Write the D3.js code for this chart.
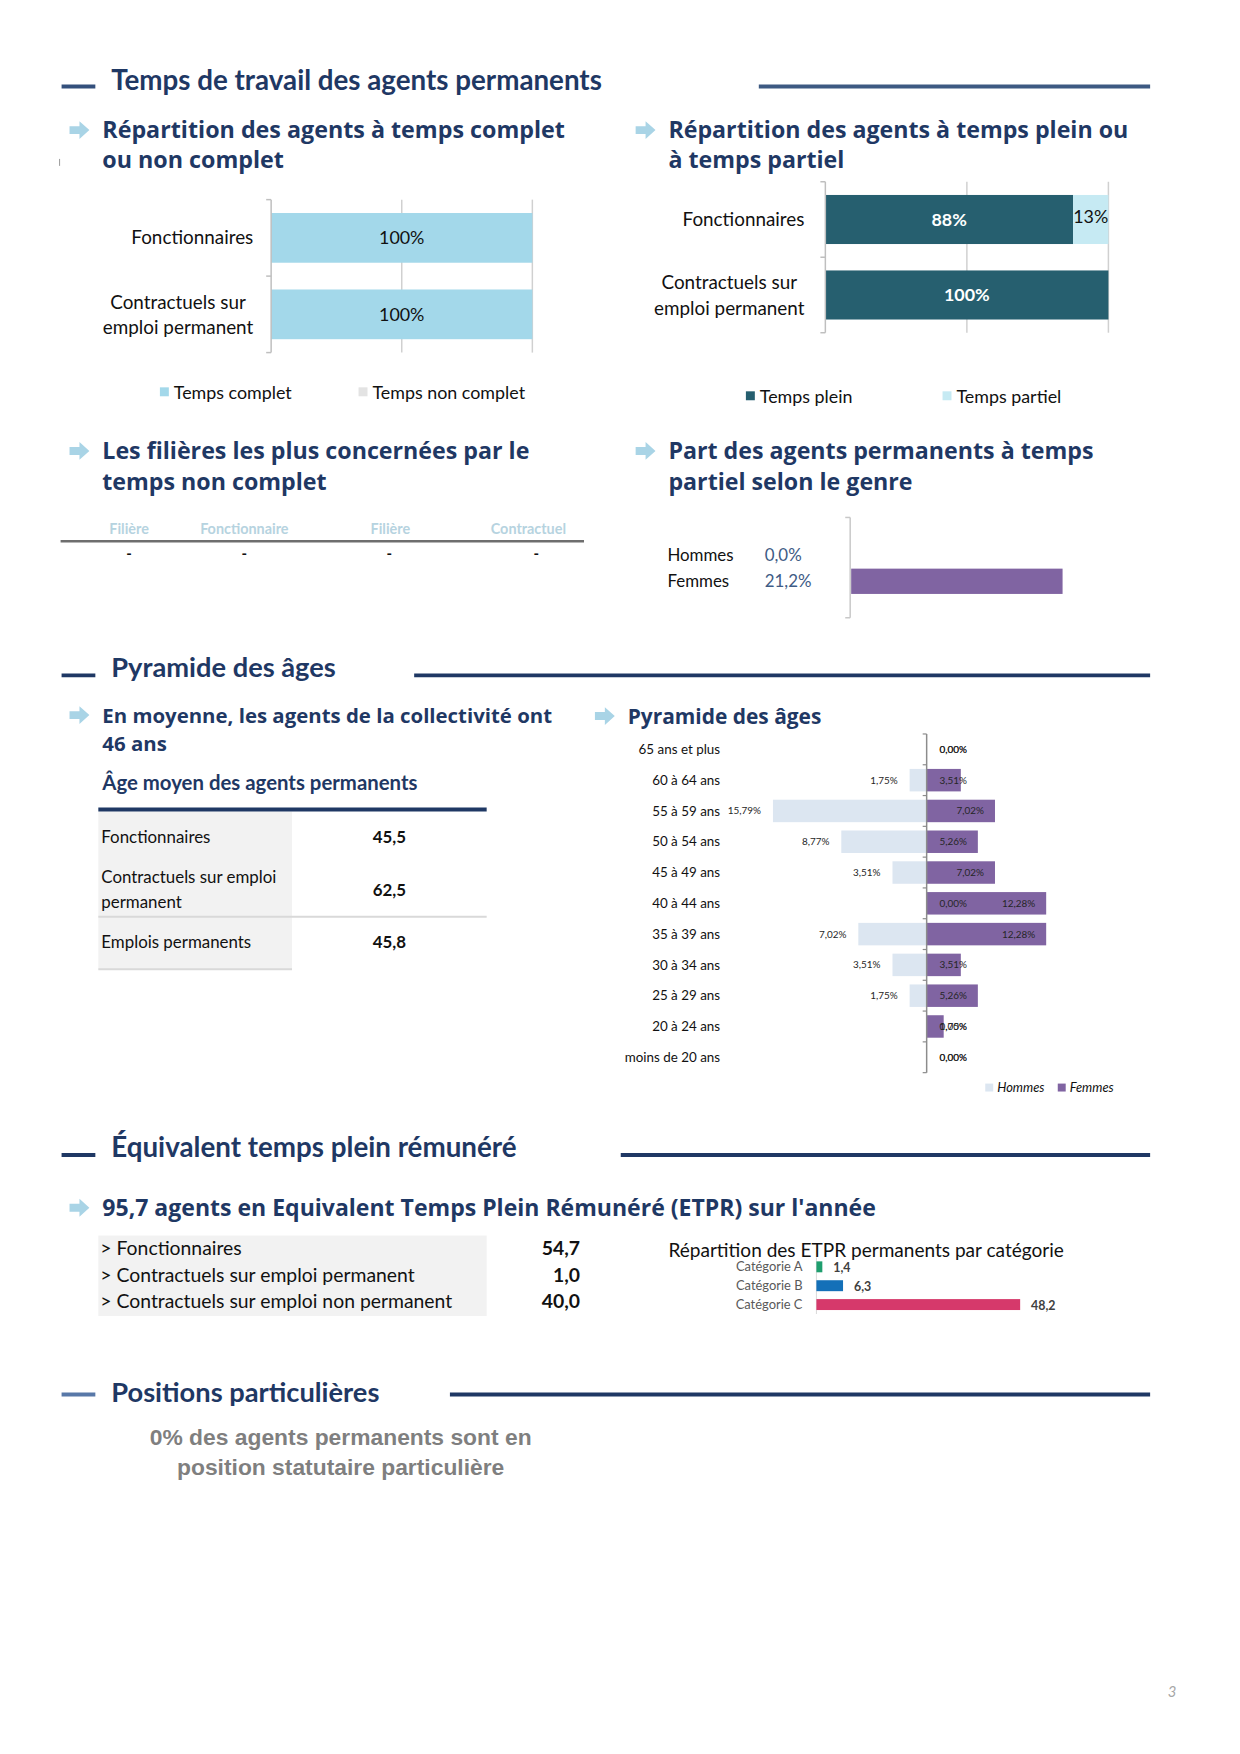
<!DOCTYPE html>
<html>
<head>
<meta charset="utf-8">
<script src="https://cdn.jsdelivr.net/npm/d3@7"></script>
<style>
  body { margin: 0; background: #fff; }
  svg { display: block; }
</style>
</head>
<body>
<svg id="page" width="1240" height="1754"></svg>
<script>
// ---- data ----
var tempsCats = ["Fonctionnaires", "Contractuels sur emploi permanent"];
var tempsComplet = [100, 100];
var tempsNonComplet = [0, 0];

var pleinCats = ["Fonctionnaires", "Contractuels sur emploi permanent"];
var tempsPlein = [87.5, 100];
var tempsPartiel = [12.5, 0];

var filiereHeaders = ["Filière", "Fonctionnaire", "Filière", "Contractuel"];
var filiereRow = ["-", "-", "-", "-"];

var genreCats = ["Hommes", "Femmes"];
var partielGenre = [0.0, 21.2];

var ageCats = ["Fonctionnaires", "Contractuels sur emploi permanent", "Emplois permanents"];
var ageMoyen = [45.5, 62.5, 45.8];

var pyramidAges = ["65 ans et plus", "60 à 64 ans", "55 à 59 ans", "50 à 54 ans", "45 à 49 ans",
    "40 à 44 ans", "35 à 39 ans", "30 à 34 ans", "25 à 29 ans", "20 à 24 ans", "moins de 20 ans"];
var pyrHommes = [0, 1.75, 15.79, 8.77, 3.51, 0, 7.02, 3.51, 1.75, 0, 0];
var pyrFemmes = [0, 3.51, 7.02, 5.26, 7.02, 12.28, 12.28, 3.51, 5.26, 1.75, 0];

var etprCats = ["> Fonctionnaires", "> Contractuels sur emploi permanent", "> Contractuels sur emploi non permanent"];
var etprValues = [54.7, 1.0, 40.0];
var etprTotal = 95.7;

var etprCatLabels = ["Catégorie A", "Catégorie B", "Catégorie C"];
var etprCatValues = [1.4, 6.3, 48.2];
var etprCatColors = ["#1f9e6e", "#1470b8", "#d6396b"];

var positionsPct = 0;

// ---- setup ----
var svg = d3.select("#page").append("g").attr("transform", "scale(0.9932)");
var navy = "#1f3864";
var bodyFont = "Lato, 'Open Sans', sans-serif";
var gothic = "'Open Sans', 'DejaVu Sans', sans-serif";
var fr = d3.formatLocale({decimal: ",", thousands: " ", grouping: [3], currency: ["", " €"]});
var f1 = fr.format(".1f"), f2 = fr.format(".2f");

function fitText(sel, w) {
    var len = sel.node().getComputedTextLength();
    var fs = parseFloat(sel.attr("font-size"));
    sel.attr("font-size", (fs * w / len).toFixed(2));
    return fs * w / len;
}

function wrapLabel(s) {
    if (s.length <= 20) return [s];
    var words = s.split(" "), first = "";
    while (words.length && (first + " " + words[0]).trim().length <= 16) {
        first = (first + " " + words.shift()).trim();
    }
    return [first, words.join(" ")];
}

function sectionHeader(y, title, w, lineX, barColor, lineColor, dyTitle) {
    svg.append("line").attr("x1", 62).attr("x2", 96).attr("y1", y).attr("y2", y)
        .attr("stroke", barColor).attr("stroke-width", 4);
    var t = svg.append("text").attr("x", 112).attr("y", y + 2 + (dyTitle || 0))
        .attr("font-family", bodyFont).attr("font-weight", 700).attr("font-size", 26)
        .attr("fill", navy).text(title);
    fitText(t, w);
    svg.append("line").attr("x1", lineX).attr("x2", 1158).attr("y1", y).attr("y2", y)
        .attr("stroke", lineColor).attr("stroke-width", 4);
}

function arrow(x, y) {
    svg.append("path")
        .attr("transform", "translate(" + x + "," + y + ")")
        .attr("d", "M0,-4H10V-9L20,0L10,9V4H0Z")
        .attr("fill", "#a9d4e6");
}

function subtitle(x, y, lines, w, lh) {
    arrow(x - 33, y - 8);
    var t0 = svg.append("text").attr("x", x).attr("y", y)
        .attr("font-family", gothic).attr("font-weight", 700).attr("font-size", 22)
        .attr("fill", navy).text(lines[0]);
    var fs = fitText(t0, w);
    for (var i = 1; i < lines.length; i++) {
        svg.append("text").attr("x", x).attr("y", y + lh * i)
            .attr("font-family", gothic).attr("font-weight", 700).attr("font-size", fs.toFixed(2))
            .attr("fill", navy).text(lines[i]);
    }
}

// stacked horizontal bar chart (Excel style)
function stackChart(o) {
    var x = d3.scaleLinear().domain([0, 100]).range([o.x0, o.x1]);
    var y = d3.scaleBand().domain(o.cats).range([o.y0, o.y1]).paddingInner(0.35).paddingOuter(0.175);
    var g = svg.append("g");
    g.selectAll("line.grid").data([50, 100]).enter().append("line")
        .attr("x1", function (d) { return x(d); }).attr("x2", function (d) { return x(d); })
        .attr("y1", o.y0).attr("y2", o.y1).attr("stroke", "#d0d0d0").attr("stroke-width", 1.5);
    o.series.forEach(function (s, si) {
        g.selectAll("rect.s" + si).data(o.cats).enter().append("rect")
            .attr("x", function (d, i) { return x(si === 0 ? 0 : o.series[0].values[i]); })
            .attr("y", function (d) { return y(d); })
            .attr("width", function (d, i) { return x(s.values[i]) - x(0); })
            .attr("height", y.bandwidth())
            .attr("fill", s.color);
        g.selectAll("text.s" + si).data(o.cats).enter().append("text")
            .filter(function (d, i) { return s.values[i] > 0; })
            .attr("x", function (d, i) {
                var start = si === 0 ? 0 : o.series[0].values[i];
                return x(start + s.values[i] / 2);
            })
            .attr("y", function (d) { return y(d) + y.bandwidth() / 2; })
            .attr("dy", s.dy || "0.35em")
            .attr("text-anchor", "middle")
            .attr("font-family", bodyFont).attr("font-size", 18)
            .attr("font-weight", s.bold ? 700 : 400)
            .attr("fill", s.labelColor)
            .text(function (d, i) { return Math.round(s.values[i]) + "%"; });
    });
    // axis
    g.append("line").attr("x1", x(0)).attr("x2", x(0)).attr("y1", o.y0).attr("y2", o.y1)
        .attr("stroke", "#bfbfbf").attr("stroke-width", 1.5);
    var bounds = [o.y0, (o.y0 + o.y1) / 2, o.y1];
    g.selectAll("line.tick").data(bounds).enter().append("line")
        .attr("x1", x(0) - 5).attr("x2", x(0)).attr("y1", function (d) { return d; }).attr("y2", function (d) { return d; })
        .attr("stroke", "#bfbfbf").attr("stroke-width", 1.5);
    // category labels, wrapped lines centred on each other
    o.cats.forEach(function (c) {
        var lines = wrapLabel(c);
        var lab = g.append("text").attr("font-family", bodyFont).attr("font-size", 19).attr("fill", "#111");
        var cy = y(c) + y.bandwidth() / 2 - (lines.length - 1) * 12.5;
        var maxW = 0;
        lines.forEach(function (l, li) {
            var ts = lab.append("tspan").attr("x", 0).attr("y", cy + li * 26).attr("dy", "0.35em").text(l);
            maxW = Math.max(maxW, ts.node().getComputedTextLength());
        });
        lab.selectAll("tspan").attr("x", o.labelRight - maxW / 2).attr("text-anchor", "middle");
    });
    // legend
    o.series.forEach(function (s, si) {
        var lx = o.legendX[si];
        g.append("rect").attr("x", lx).attr("y", o.legendY - 5).attr("width", 9).attr("height", 9).attr("fill", s.legendColor || s.color);
        g.append("text").attr("x", lx + 14).attr("y", o.legendY).attr("dy", "0.35em")
            .attr("font-family", bodyFont).attr("font-size", 18).attr("fill", "#111").text(s.name);
    });
}

// ---- Section 1 : Temps de travail ----
sectionHeader(87, "Temps de travail des agents permanents", 494, 764, "#34507c", "#3d5a82", 2);

subtitle(103, 139, ["Répartition des agents à temps complet", "ou non complet"], 466, 30);
svg.append("line").attr("x1", 60).attr("x2", 60).attr("y1", 160).attr("y2", 167).attr("stroke", "#999").attr("stroke-width", 1);
subtitle(673, 139, ["Répartition des agents à temps plein ou", "à temps partiel"], 463, 30);

stackChart({
    cats: tempsCats, x0: 273, x1: 536, y0: 201, y1: 355, labelRight: 255,
    series: [
        {name: "Temps complet", values: tempsComplet, color: "#a3d8ea", labelColor: "#111", bold: false},
        {name: "Temps non complet", values: tempsNonComplet, color: "#e3e3e3", labelColor: "#111", bold: false}
    ],
    legendX: [161, 361], legendY: 395
});

stackChart({
    cats: pleinCats, x0: 831, x1: 1116, y0: 183, y1: 335, labelRight: 810,
    series: [
        {name: "Temps plein", values: tempsPlein, color: "#265f6f", labelColor: "#fff", bold: true},
        {name: "Temps partiel", values: tempsPartiel, color: "#c6eaf3", labelColor: "#111", bold: false, dy: "0.2em"}
    ],
    legendX: [751, 949], legendY: 399
});

// ---- filières table ----
subtitle(103, 462, ["Les filières les plus concernées par le", "temps non complet"], 430, 31);
var filX = [130, 246, 393, 532];
var filDashX = [130, 246, 392, 540];
svg.selectAll("text.filh").data(filiereHeaders).enter().append("text")
    .attr("x", function (d, i) { return filX[i]; }).attr("y", 538)
    .attr("text-anchor", "middle").attr("font-family", bodyFont).attr("font-weight", 700)
    .attr("font-size", 14.5).attr("fill", "#b6d3e0").text(function (d) { return d; });
svg.append("line").attr("x1", 61).attr("x2", 588).attr("y1", 545).attr("y2", 545)
    .attr("stroke", "#6e6e6e").attr("stroke-width", 2.5);
svg.selectAll("text.fild").data(filiereRow).enter().append("text")
    .attr("x", function (d, i) { return filDashX[i]; }).attr("y", 563)
    .attr("text-anchor", "middle").attr("font-family", bodyFont).attr("font-weight", 700)
    .attr("font-size", 15).attr("fill", "#111").text(function (d) { return d; });

// ---- temps partiel selon le genre ----
subtitle(673, 462, ["Part des agents permanents à temps", "partiel selon le genre"], 428, 31);
(function () {
    var x = d3.scaleLinear().domain([0, 25]).range([857, 1108]);
    var y = d3.scaleBand().domain(genreCats).range([546, 598]).paddingInner(0.04);
    svg.selectAll("rect.genre").data(genreCats).enter().append("rect")
        .attr("x", x(0)).attr("y", function (d) { return y(d); })
        .attr("width", function (d, i) { return x(partielGenre[i]) - x(0); })
        .attr("height", y.bandwidth()).attr("fill", "#8064a2");
    svg.append("line").attr("x1", 856).attr("x2", 856).attr("y1", 521).attr("y2", 622)
        .attr("stroke", "#c8c8c8").attr("stroke-width", 1.5);
    svg.selectAll("line.gt").data([521, 622]).enter().append("line")
        .attr("x1", 851).attr("x2", 856).attr("y1", function (d) { return d; }).attr("y2", function (d) { return d; })
        .attr("stroke", "#c8c8c8").attr("stroke-width", 1.5);
    svg.selectAll("text.gcat").data(genreCats).enter().append("text")
        .attr("x", 672).attr("y", function (d) { return y(d) + y.bandwidth() / 2; }).attr("dy", "0.35em")
        .attr("font-family", bodyFont).attr("font-size", 17).attr("fill", "#111").text(function (d) { return d; });
    svg.selectAll("text.gval").data(genreCats).enter().append("text")
        .attr("x", 770).attr("y", function (d) { return y(d) + y.bandwidth() / 2; }).attr("dy", "0.35em")
        .attr("font-family", bodyFont).attr("font-size", 17).attr("fill", "#3e5b85")
        .text(function (d, i) { return f1(partielGenre[i]) + "%"; });
})();

// ---- Section 2 : Pyramide des âges ----
sectionHeader(680, "Pyramide des âges", 226, 417, "#1f3864", "#1f3864", 0);
subtitle(103, 728, ["En moyenne, les agents de la collectivité ont", "46 ans"], 453, 28);

svg.append("text").attr("x", 103).attr("y", 795)
    .attr("font-family", bodyFont).attr("font-weight", 700).attr("font-size", 20.5)
    .attr("fill", navy).text("Âge moyen des agents permanents");

// age table
(function () {
    var rowMid = [843, 896, 949];
    svg.append("rect").attr("x", 99).attr("y", 817).attr("width", 195).attr("height", 159).attr("fill", "#f2f2f2");
    svg.append("line").attr("x1", 99).attr("x2", 490).attr("y1", 815).attr("y2", 815)
        .attr("stroke", navy).attr("stroke-width", 4);
    svg.append("line").attr("x1", 99).attr("x2", 490).attr("y1", 923).attr("y2", 923)
        .attr("stroke", "#d9d9d9").attr("stroke-width", 2);
    svg.append("line").attr("x1", 99).attr("x2", 294).attr("y1", 976).attr("y2", 976)
        .attr("stroke", "#d9d9d9").attr("stroke-width", 2);
    ageCats.forEach(function (c, i) {
        var mid = rowMid[i];
        var lines = c.length > 24 ? ["Contractuels sur emploi", "permanent"] : [c];
        var t = svg.append("text").attr("font-family", bodyFont).attr("font-size", 17).attr("fill", "#111");
        lines.forEach(function (l, li) {
            t.append("tspan").attr("x", 102).attr("y", mid + (li - (lines.length - 1) / 2) * 25).attr("dy", "0.35em").text(l);
        });
        svg.append("text").attr("x", 392).attr("y", mid).attr("dy", "0.35em")
            .attr("text-anchor", "middle").attr("font-family", bodyFont).attr("font-weight", 700)
            .attr("font-size", 17).attr("fill", "#111").text(f1(ageMoyen[i]));
    });
})();

// pyramid
subtitle(632, 729, ["Pyramide des âges"], 195, 0);
(function () {
    var x = d3.scaleLinear().domain([-20, 20]).range([933 - 196, 933 + 196]);
    var y = d3.scaleBand().domain(pyramidAges).range([739, 1080]).paddingInner(0.27).paddingOuter(0.135);
    var g = svg.append("g");
    g.selectAll("rect.h").data(pyramidAges).enter().append("rect")
        .attr("x", function (d, i) { return x(-pyrHommes[i]); })
        .attr("y", function (d) { return y(d); })
        .attr("width", function (d, i) { return x(0) - x(-pyrHommes[i]); })
        .attr("height", y.bandwidth()).attr("fill", "#dce6f1");
    g.selectAll("rect.f").data(pyramidAges).enter().append("rect")
        .attr("x", x(0))
        .attr("y", function (d) { return y(d); })
        .attr("width", function (d, i) { return x(pyrFemmes[i]) - x(0); })
        .attr("height", y.bandwidth()).attr("fill", "#8064a2");
    g.append("line").attr("x1", x(0)).attr("x2", x(0)).attr("y1", 739).attr("y2", 1080)
        .attr("stroke", "#8c8c8c").attr("stroke-width", 1.5);
    var ticks = [739].concat(pyramidAges.map(function (d) { return y(d) + y.bandwidth() + y.step() * 0.135; }));
    g.selectAll("line.t").data(ticks).enter().append("line")
        .attr("x1", x(0) - 4).attr("x2", x(0)).attr("y1", function (d) { return d; }).attr("y2", function (d) { return d; })
        .attr("stroke", "#8c8c8c").attr("stroke-width", 1.2);
    g.selectAll("text.cat").data(pyramidAges).enter().append("text")
        .attr("x", 725).attr("y", function (d) { return y(d) + y.bandwidth() / 2; }).attr("dy", "0.35em")
        .attr("text-anchor", "end").attr("font-family", bodyFont).attr("font-size", 13.5).attr("fill", "#111")
        .text(function (d) { return d; });
    // men labels: outside end, zero values just right of the axis
    g.selectAll("text.hl").data(pyramidAges).enter().append("text")
        .attr("x", function (d, i) { return pyrHommes[i] === 0 ? x(0) + 13 : x(-pyrHommes[i]) - 12; })
        .attr("text-anchor", function (d, i) { return pyrHommes[i] === 0 ? "start" : "end"; })
        .attr("y", function (d) { return y(d) + y.bandwidth() / 2; }).attr("dy", "0.35em")
        .attr("font-family", bodyFont).attr("font-size", 10).attr("fill", "#262626")
        .text(function (d, i) { return f2(pyrHommes[i]) + "%"; });
    // women labels: inside end, clamped near the axis
    g.selectAll("text.fl").data(pyramidAges).enter().append("text")
        .attr("y", function (d) { return y(d) + y.bandwidth() / 2; }).attr("dy", "0.35em")
        .attr("text-anchor", "end")
        .attr("font-family", bodyFont).attr("font-size", 10).attr("fill", "#262626")
        .text(function (d, i) { return f2(pyrFemmes[i]) + "%"; })
        .attr("x", function (d, i) {
            var w = this.getComputedTextLength();
            return Math.max(x(pyrFemmes[i]) - 11, x(0) + 13 + w);
        });
    // legend
    var leg = [{n: "Hommes", c: "#dce6f1", x: 992}, {n: "Femmes", c: "#8064a2", x: 1065}];
    leg.forEach(function (l) {
        g.append("rect").attr("x", l.x).attr("y", 1091).attr("width", 8).attr("height", 8).attr("fill", l.c);
        g.append("text").attr("x", l.x + 12).attr("y", 1095).attr("dy", "0.35em")
            .attr("font-family", bodyFont).attr("font-style", "italic").attr("font-size", 13)
            .attr("fill", "#111").text(l.n);
    });
})();

// ---- Section 3 : ETPR ----
sectionHeader(1163, "Équivalent temps plein rémunéré", 408, 625, "#1f3864", "#1f3864", 0);
subtitle(103, 1224, [f1(etprTotal) + " agents en Equivalent Temps Plein Rémunéré (ETPR) sur l'année"], 779, 0);

svg.append("rect").attr("x", 99).attr("y", 1244).attr("width", 391).attr("height", 81).attr("fill", "#f2f2f2");
var etprY = d3.scaleBand().domain(etprCats).range([1244, 1325]).padding(0);
svg.selectAll("text.etc").data(etprCats).enter().append("text")
    .attr("x", 101).attr("y", function (d) { return etprY(d) + etprY.bandwidth() / 2 - 1; }).attr("dy", "0.35em")
    .attr("font-family", bodyFont).attr("font-size", 19.5).attr("fill", "#111").text(function (d) { return d; });
svg.selectAll("text.etv").data(etprCats).enter().append("text")
    .attr("x", 584).attr("y", function (d) { return etprY(d) + etprY.bandwidth() / 2 - 1; }).attr("dy", "0.35em")
    .attr("text-anchor", "end").attr("font-family", bodyFont).attr("font-weight", 700)
    .attr("font-size", 19.5).attr("fill", "#111").text(function (d, i) { return f1(etprValues[i]); });

(function () {
    svg.append("text").attr("x", 673).attr("y", 1259).attr("dy", "0.35em")
        .attr("font-family", bodyFont).attr("font-size", 19.2).attr("fill", "#111")
        .text("Répartition des ETPR permanents par catégorie");
    var x = d3.scaleLinear().domain([0, 50]).range([822, 822 + 212.8]);
    var y = d3.scaleBand().domain(etprCatLabels).range([1266, 1323]).paddingInner(0.42).paddingOuter(0.21);
    svg.append("line").attr("x1", x(0)).attr("x2", x(0)).attr("y1", 1266).attr("y2", 1323)
        .attr("stroke", "#d9d9d9").attr("stroke-width", 1);
    svg.selectAll("rect.cat").data(etprCatLabels).enter().append("rect")
        .attr("x", x(0)).attr("y", function (d) { return y(d); })
        .attr("width", function (d, i) { return x(etprCatValues[i]) - x(0); })
        .attr("height", y.bandwidth()).attr("fill", function (d, i) { return etprCatColors[i]; });
    svg.selectAll("text.catl").data(etprCatLabels).enter().append("text")
        .attr("x", 808).attr("y", function (d) { return y(d) + y.bandwidth() / 2; }).attr("dy", "0.35em")
        .attr("text-anchor", "end").attr("font-family", bodyFont).attr("font-size", 13).attr("fill", "#595959")
        .text(function (d) { return d; });
    svg.selectAll("text.catv").data(etprCatLabels).enter().append("text")
        .attr("x", function (d, i) { return x(etprCatValues[i]) + 11; })
        .attr("y", function (d) { return y(d) + y.bandwidth() / 2 + 1; }).attr("dy", "0.35em")
        .attr("font-family", bodyFont).attr("font-weight", 700).attr("font-size", 12.5).attr("fill", "#404040")
        .text(function (d, i) { return f1(etprCatValues[i]); });
})();

// ---- Section 4 : Positions particulières ----
sectionHeader(1404, "Positions particulières", 270, 453, "#5878a8", "#1f3864", 6);
svg.append("text").attr("x", 343).attr("y", 1455).attr("text-anchor", "middle")
    .attr("font-family", "'Liberation Sans', Arial, sans-serif").attr("font-weight", 700)
    .attr("font-size", 23).attr("fill", "#7f7f7f")
    .text(positionsPct + "% des agents permanents sont en");
svg.append("text").attr("x", 343).attr("y", 1485).attr("text-anchor", "middle")
    .attr("font-family", "'Liberation Sans', Arial, sans-serif").attr("font-weight", 700)
    .attr("font-size", 23).attr("fill", "#7f7f7f")
    .text("position statutaire particulière");

svg.append("text").attr("x", 1180).attr("y", 1709).attr("text-anchor", "middle")
    .attr("font-family", bodyFont).attr("font-style", "italic").attr("font-size", 15)
    .attr("fill", "#a6a6a6").text("3");
</script>
</body>
</html>
